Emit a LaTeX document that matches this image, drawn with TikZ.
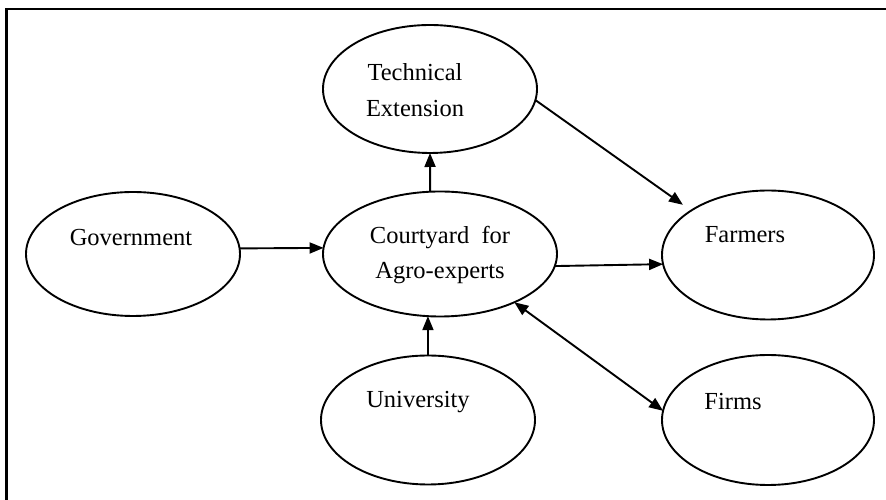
\documentclass[tikz,border=0pt]{standalone}
\usepackage{fontspec}
\setmainfont{Liberation Serif}
\usetikzlibrary{shapes.geometric,arrows.meta}
\begin{document}
\begin{tikzpicture}[x=1pt,y=1pt,
  oval/.style={draw,ellipse,line width=1.9pt,outer sep=0pt,inner sep=0pt},
  lbl/.style={font=\fontsize{24.5}{35.5}\selectfont,align=center,inner sep=0pt},
  arr/.style={line width=1.9pt,-{Triangle[length=14pt,width=11pt]}},
  darr/.style={line width=1.9pt,{Triangle[length=14pt,width=11pt]}-{Triangle[length=14pt,width=11pt]}}]
\useasboundingbox (0,0) rectangle (886,500);
% frame
\draw[line width=2.8pt] (6.5,-10) -- (6.5,491) -- (900,491);
% ellipses
\node[oval,minimum width=214pt,minimum height=128pt] (tech) at (430,411) {};
\node[oval,minimum width=214pt,minimum height=124pt] (gov) at (133,246) {};
\node[oval,minimum width=234pt,minimum height=125pt] (court) at (440,246) {};
\node[oval,minimum width=212pt,minimum height=129pt] (farm) at (768,245) {};
\node[oval,minimum width=214pt,minimum height=129pt] (univ) at (428,80) {};
\node[oval,minimum width=212pt,minimum height=130pt] (firms) at (768,80) {};
% texts
\node[lbl] (techt) at (415,410) {Technical\\Extension};
\node[lbl] (courtt) at (440,245) {Courtyard\ \ for\\Agro-experts};
\node[lbl] (govt) at (131,262) {Government};
\node[lbl] (farmt) at (745,265) {Farmers};
\node[lbl] (univt) at (418,98) {University};
\node[lbl] (firmst) at (733,98) {Firms};
% connectors
\draw[arr] (gov.3) -- (court.177);
\draw[arr] (court.99) -- (tech.south);
\draw[arr] (univ.north) -- (court.259);
\draw[arr] (court.354.6) -- (farm.185.4);
\draw[arr,shorten >=10pt] (tech.354) -- (farm.150);
\draw[darr] (court.327.5) -- (firms.175);
\end{tikzpicture}
\end{document}
